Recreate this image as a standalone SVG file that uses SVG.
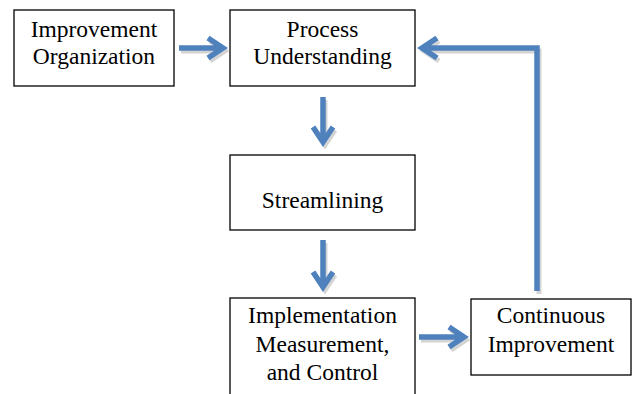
<svg xmlns="http://www.w3.org/2000/svg" width="634" height="394" viewBox="0 0 634 394">
<style>
.box{fill:#fff;stroke:#000;stroke-width:1.3}
.t{font-family:"Liberation Serif","Times New Roman",serif;font-size:23.5px;fill:#000;text-anchor:middle}
.a{fill:none;stroke:#4F81BD;stroke-width:5.5;stroke-linejoin:miter;stroke-linecap:butt}
.s{fill:none;stroke:#d4d4d4;stroke-width:5}
</style>
<rect width="634" height="394" fill="#fff"/>
<g id="n1"><rect class="box" x="14" y="10" width="160" height="76"/><text class="t" x="94" y="37">Improvement</text><text class="t" x="94" y="64">Organization</text></g>
<g id="n2"><rect class="box" x="230" y="10" width="185" height="76"/><text class="t" x="322.5" y="37">Process</text><text class="t" x="322.5" y="64">Understanding</text></g>
<g id="n3"><rect class="box" x="230" y="155" width="185" height="75"/><text class="t" x="322.5" y="208">Streamlining</text></g>
<g id="n4"><rect class="box" x="230" y="298" width="185" height="110"/><text class="t" x="322.5" y="323">Implementation</text><text class="t" x="322.5" y="352">Measurement,</text><text class="t" x="322.5" y="380">and Control</text></g>
<g id="n5"><rect class="box" x="471" y="299" width="160" height="76"/><text class="t" x="551" y="323">Continuous</text><text class="t" x="551" y="352">Improvement</text></g>
<g id="connectors">
<g transform="translate(2,3)">
<path class="s" d="M179 48H222M208 38L223 48L208 58"/>
<path class="s" d="M323 97V140M313 127L323 142L333 127"/>
<path class="s" d="M323 240V285M313 272L323 287L333 272"/>
<path class="s" d="M419 337H462M449 327L464 337L449 347"/>
<path class="s" d="M537 291V48H423M437 38L422 48L437 58"/>
</g>
<path class="a" d="M179 48H222M208 38L223 48L208 58"/>
<path class="a" d="M323 97V140M313 127L323 142L333 127"/>
<path class="a" d="M323 240V285M313 272L323 287L333 272"/>
<path class="a" d="M419 337H462M449 327L464 337L449 347"/>
<path class="a" d="M537 291V48H423M437 38L422 48L437 58"/>
</g>
</svg>
